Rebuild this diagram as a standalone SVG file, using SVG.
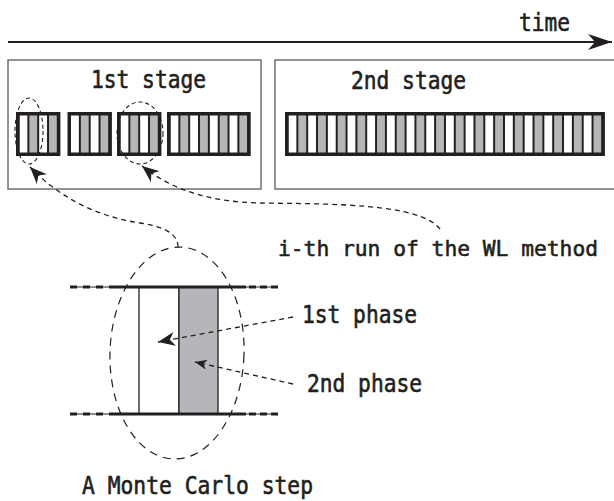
<svg xmlns="http://www.w3.org/2000/svg" width="614" height="501" viewBox="0 0 614 501">
<style>
text{font-family:"DejaVu Sans Mono","Liberation Mono",monospace;font-size:24px;fill:#231f20;stroke:#231f20;stroke-width:0.6}
.stage{fill:#fff;stroke:#707070;stroke-width:1.5}
.frame{fill:#231f20}
.dash{fill:none;stroke:#231f20;stroke-width:1.3;stroke-dasharray:5 4}
.ell{fill:none;stroke:#231f20;stroke-width:1.2;stroke-dasharray:8 6}
.ells{fill:none;stroke:#231f20;stroke-width:1.1;stroke-dasharray:4 3}
</style>
<defs>
<pattern id="cells" patternUnits="userSpaceOnUse" x="3.5" y="115.5" width="19.68" height="37">
<rect x="0" y="0" width="7.84" height="37" fill="#fff"/>
<rect x="9.84" y="0" width="7.84" height="37" fill="#b4b6b9"/>
</pattern>
<marker id="head" markerUnits="userSpaceOnUse" viewBox="-17 -7 18 14" markerWidth="18" markerHeight="14" refX="0" refY="0" orient="auto">
<path d="M0,0 L-17,-7 L-12,0 L-17,7 Z" fill="#231f20"/>
</marker>
<marker id="heads" markerUnits="userSpaceOnUse" viewBox="-12 -5 13 10" markerWidth="13" markerHeight="10" refX="0" refY="0" orient="auto">
<path d="M0,0 L-12,-5 L-8.5,0 L-12,5 Z" fill="#231f20"/>
</marker>
<marker id="timehead" markerUnits="userSpaceOnUse" viewBox="-24 -9 25 18" markerWidth="25" markerHeight="18" refX="0" refY="0" orient="auto">
<path d="M0,0 L-24,-8 L-17,0 L-24,8 Z" fill="#231f20"/>
</marker>
</defs>

<g id="time-axis">
<path d="M8,42 H612" stroke="#231f20" stroke-width="2.2" fill="none" marker-end="url(#timehead)"/>
<text x="519" y="31" textLength="51" lengthAdjust="spacingAndGlyphs">time</text>
</g>

<g id="stage1">
<rect class="stage" x="8" y="60" width="253" height="129"/>
<text x="91" y="88" textLength="115" lengthAdjust="spacingAndGlyphs">1st stage</text>
<g id="run1" transform="translate(16,0)">
<rect class="frame" x="0" y="112" width="44.4" height="44"/>
<rect x="3.5" y="115.5" width="37.4" height="37" fill="url(#cells)"/>
</g>
<g id="run2" transform="translate(67.5,0)">
<rect class="frame" x="0" y="112" width="44.4" height="44"/>
<rect x="3.5" y="115.5" width="37.4" height="37" fill="url(#cells)"/>
</g>
<g id="run3" transform="translate(117,0)">
<rect class="frame" x="0" y="112" width="44.4" height="44"/>
<rect x="3.5" y="115.5" width="37.4" height="37" fill="url(#cells)"/>
</g>
<g id="run4" transform="translate(167,0)">
<rect class="frame" x="0" y="112" width="83.7" height="44"/>
<rect x="3.5" y="115.5" width="76.7" height="37" fill="url(#cells)"/>
</g>
<ellipse class="ells" cx="29" cy="131" rx="14" ry="33"/>
<ellipse class="ells" cx="140" cy="133" rx="23" ry="31"/>
</g>

<g id="stage2">
<rect class="stage" x="275" y="60" width="340" height="129"/>
<text x="351" y="89" textLength="115" lengthAdjust="spacingAndGlyphs">2nd stage</text>
<g id="run5" transform="translate(285,0)">
<rect class="frame" x="0" y="112" width="319.9" height="44"/>
<rect x="3.5" y="115.5" width="312.9" height="37" fill="url(#cells)"/>
</g>
</g>

<g id="mc-step">
<rect x="139" y="287" width="40" height="127" fill="#fff" stroke="#231f20" stroke-width="1.3"/>
<rect x="179" y="287" width="39" height="127" fill="#b4b6b9" stroke="#231f20" stroke-width="1.3"/>
<g stroke="#231f20" fill="none">
<path d="M70,287 H110 M246,287 H278 M70,414 H110 M246,414 H278" stroke-width="1"/>
<path d="M110,287 H246 M110,414 H246" stroke-width="3"/>
<path d="M70,287 H110 M70,414 H110" stroke-width="3" stroke-dasharray="7 6"/>
<path d="M278,287 H246 M278,414 H246" stroke-width="3" stroke-dasharray="7 4"/>
</g>
<ellipse class="ell" cx="177" cy="353" rx="67" ry="106" transform="rotate(2 177 353)"/>
</g>

<g id="labels">
<text x="278" y="256" style="font-size:22px" textLength="320" lengthAdjust="spacingAndGlyphs">i-th run of the WL method</text>
<text x="302" y="323" textLength="115" lengthAdjust="spacingAndGlyphs">1st phase</text>
<text x="307" y="392" textLength="115" lengthAdjust="spacingAndGlyphs">2nd phase</text>
<text x="82" y="494" textLength="231" lengthAdjust="spacingAndGlyphs">A Monte Carlo step</text>
</g>

<g id="connectors">
<path class="dash" d="M178,247 C178,232 160,226 140,223 C100,217 62,200 30,167" marker-end="url(#head)"/>
<path class="dash" d="M440,229 C420,203 330,204 260,203 C210,202 172,190 142,166" marker-end="url(#head)"/>
<path class="dash" d="M293,317 L158,342" marker-end="url(#head)"/>
<path class="dash" d="M293,384 L195,362" marker-end="url(#heads)"/>
</g>
</svg>
